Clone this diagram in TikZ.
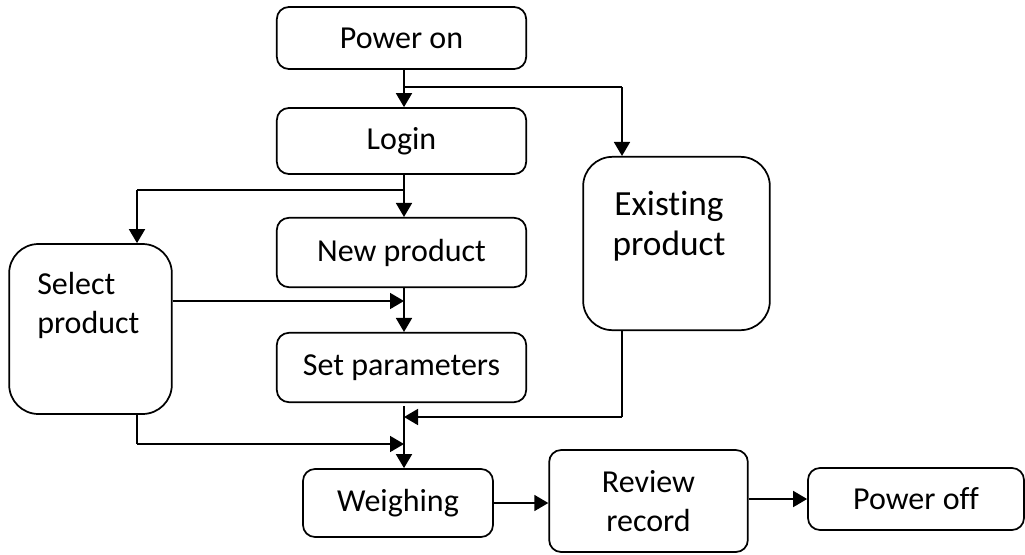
\documentclass[tikz,border=0pt]{standalone}
\usepackage{fontspec}
\setmainfont[Ligatures=NoCommon]{Carlito}
\usetikzlibrary{arrows.meta,calc}
\begin{document}
\begin{tikzpicture}[x=0.75pt,y=-0.75pt,
  box/.style={draw,line width=1.3pt,rounded corners=9pt,inner sep=0pt},
  bigbox/.style={draw,line width=1.3pt,rounded corners=22pt,inner sep=0pt},
  txt/.style={font=\fontsize{24}{29.5}\selectfont},
  arr/.style={line width=1.3pt,-{Triangle[length=10.5pt,width=12pt]}},
  ln/.style={line width=1.3pt}]
\useasboundingbox (0,0) rectangle (1025,554);
% boxes
\node[box,txt,minimum width=187pt,minimum height=46.5pt] (po) at (401.5,38) {\raisebox{-2pt}{Power on}};
\node[box,txt,minimum width=187pt,minimum height=49.5pt] (lg) at (401.5,141) {\raisebox{-2pt}{Login}};
\node[box,txt,minimum width=187pt,minimum height=52pt] (np) at (401.5,252.5) {\raisebox{-2pt}{New product}};
\node[box,txt,minimum width=187pt,minimum height=52pt] (sp) at (401.5,367.5) {\raisebox{-2pt}{Set parameters}};
\node[bigbox,minimum width=122pt,minimum height=127.5pt] (sel) at (90.5,329) {};
\node[txt,align=left,anchor=north west,inner sep=0pt] (selt) at (37,272) {Select\\product};
\node[bigbox,minimum width=140pt,minimum height=130pt] (ex) at (676.5,243.5) {};
\node[font=\fontsize{26.5}{30}\selectfont,align=center] (ext) at (669,226) {Existing\\product};
\node[box,txt,minimum width=142.5pt,minimum height=51pt] (wg) at (398,503) {\raisebox{-2pt}{Weighing}};
\node[box,txt,align=center,minimum width=149pt,minimum height=76.5pt] (rv) at (648.5,501) {Review\\record};
\node[box,txt,minimum width=162pt,minimum height=46.5pt] (pf) at (916,499) {\raisebox{-2pt}{Power off}};
% coordinates
\coordinate (b1) at (622,87);
\coordinate (b2) at (404,190);
\coordinate (b3) at (137,190);
\coordinate (c1) at (404,301);
\coordinate (c2) at (404,417);
\coordinate (c3) at (622,417);
\coordinate (c4) at (404,444);
\coordinate (c5) at (137,444);
% connectors
\draw[arr] (po.south -| b2) -- (lg.north -| b2);
\draw[ln] (b1 -| b2) -- (b1);
\draw[arr] (b1) -- (ex.north -| b1);
\draw[arr] (lg.south -| b2) -- (np.north -| b2);
\draw[ln] (b2) -- (b3);
\draw[arr] (b3) -- (sel.north -| b3);
\draw[arr] (np.south -| c1) -- (sp.north -| c1);
\draw[arr] (sel.east |- c1) -- (c1);
\draw[arr] ([yshift=-2.5pt]sp.south -| c2) -- (wg.north -| c2);
\draw[ln] (ex.south -| c3) -- (c3);
\draw[arr] (c3) -- (c2);
\draw[line width=2.2pt] (sel.south -| c5) -- (c5);
\draw[arr] (c5) -- (c4);
\draw[arr] (wg.east) -- (rv.west |- wg.east);
\draw[arr] (rv.east |- pf.west) -- (pf.west);
\end{tikzpicture}
\end{document}
